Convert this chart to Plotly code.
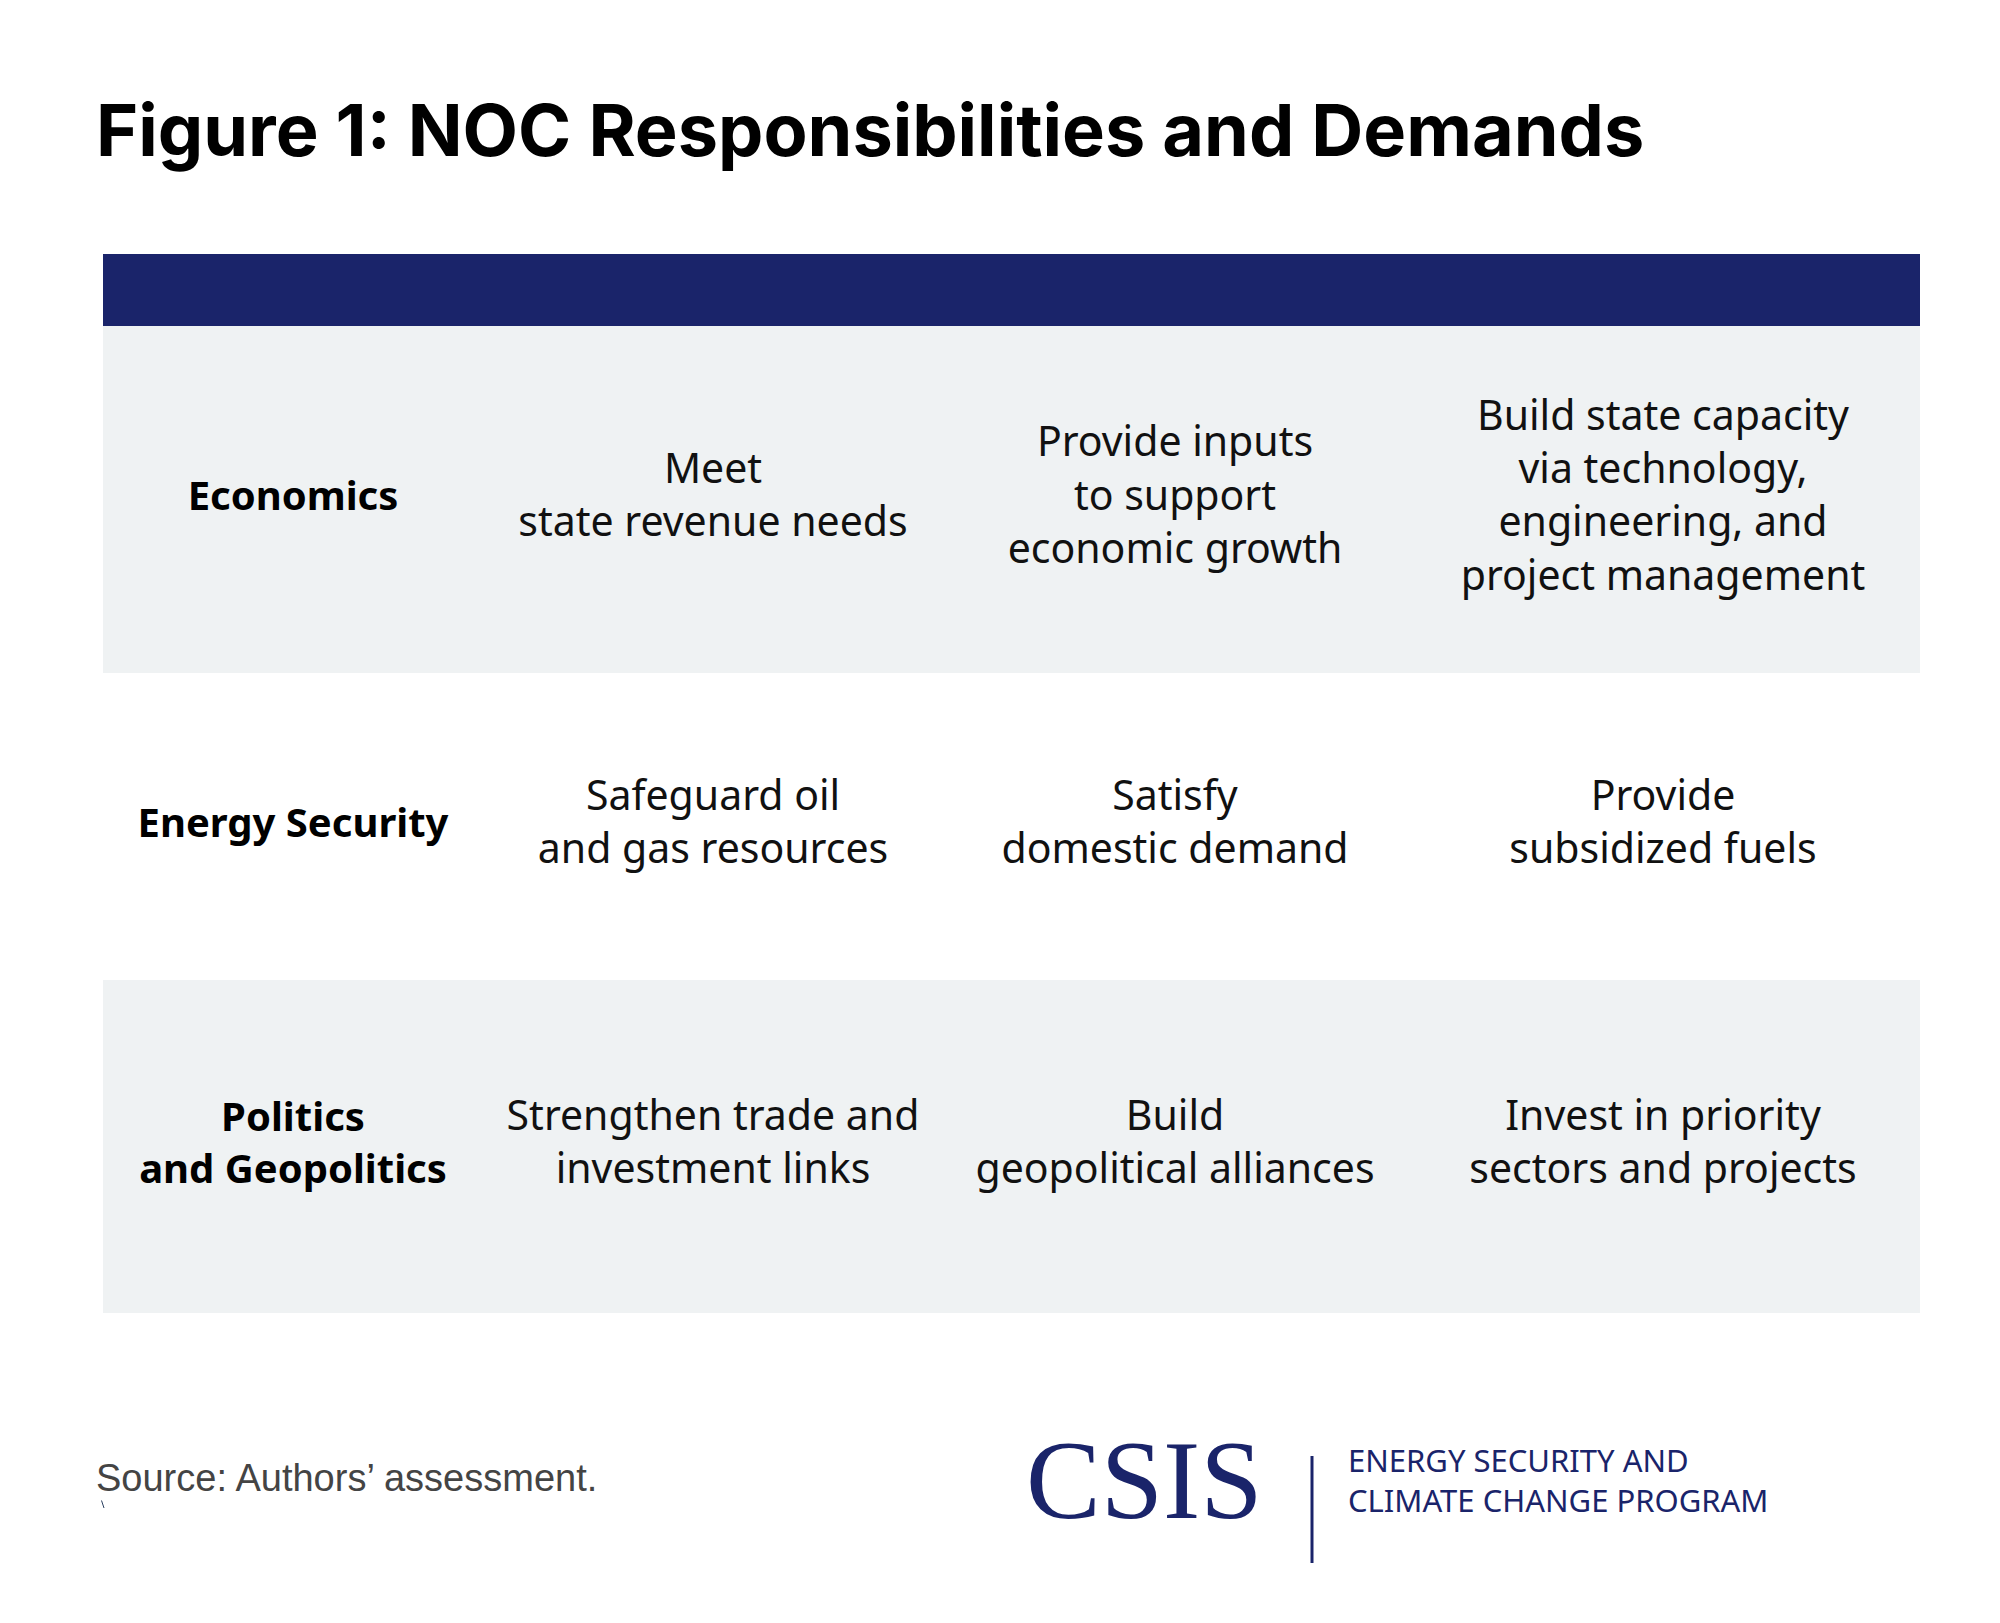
import plotly.graph_objects as go

title = "Figure 1: NOC Responsibilities and Demands"
row_labels = ["Economics", "Energy Security", "Politics<br>and Geopolitics"]
cells = [
    ["Meet<br>state revenue needs", "Provide inputs<br>to support<br>economic growth",
     "Build state capacity<br>via technology,<br>engineering, and<br>project management"],
    ["Safeguard oil<br>and gas resources", "Satisfy<br>domestic demand", "Provide<br>subsidized fuels"],
    ["Strengthen trade and<br>investment links", "Build<br>geopolitical alliances",
     "Invest in priority<br>sectors and projects"],
]
source = "Source: Authors’ assessment."
program = "ENERGY SECURITY AND<br>CLIMATE CHANGE PROGRAM"

W, H = 2000, 1623
NAVY = "#1a246a"
GRAY = "#eff2f3"
col_x = [285, 705, 1167, 1655]
row_y = [(318, 665), (665, 972), (972, 1305)]

fig = go.Figure()
shapes = [dict(type="rect", x0=95, x1=1912, y0=246, y1=318, fillcolor=NAVY, line_width=0, layer="below")]
for i, (y0, y1) in enumerate(row_y):
    if i != 1:
        shapes.append(dict(type="rect", x0=95, x1=1912, y0=y0, y1=y1, fillcolor=GRAY, line_width=0, layer="below"))
shapes.append(dict(type="line", x0=1304, x1=1304, y0=1448, y1=1555, line=dict(color=NAVY, width=3)))

for i, (y0, y1) in enumerate(row_y):
    yc = (y0 + y1) / 2
    fig.add_trace(go.Scatter(x=[col_x[0]], y=[yc], mode="text", text=[row_labels[i]],
                             textfont=dict(family="Noto Sans", size=40, color="#000", weight=700)))
    fig.add_trace(go.Scatter(x=col_x[1:], y=[yc] * 3, mode="text", text=cells[i],
                             textfont=dict(family="Noto Sans", size=41, color="#111")))

ann = [
    dict(x=96, y=151, text="<b>" + title + "</b>", xanchor="left", yanchor="middle",
         font=dict(family="Inter", size=72, color="#000")),
    dict(x=96, y=1500, text=source, xanchor="left", yanchor="middle",
         font=dict(family="Liberation Sans", size=38, color="#444")),
    dict(x=1026, y=1502, text="CSIS", xanchor="left", yanchor="middle",
         font=dict(family="Liberation Serif", size=112, color=NAVY)),
    dict(x=1348, y=1502, text=program, xanchor="left", yanchor="middle", align="left",
         font=dict(family="Noto Sans", size=31, color=NAVY)),
]

fig.update_layout(width=W, height=H, margin=dict(l=0, r=0, t=0, b=0), showlegend=False,
                  paper_bgcolor="white", plot_bgcolor="white", shapes=shapes, annotations=ann,
                  xaxis=dict(range=[0, W], visible=False, fixedrange=True),
                  yaxis=dict(range=[H, 0], visible=False, fixedrange=True))
fig.write_html("out.html")
